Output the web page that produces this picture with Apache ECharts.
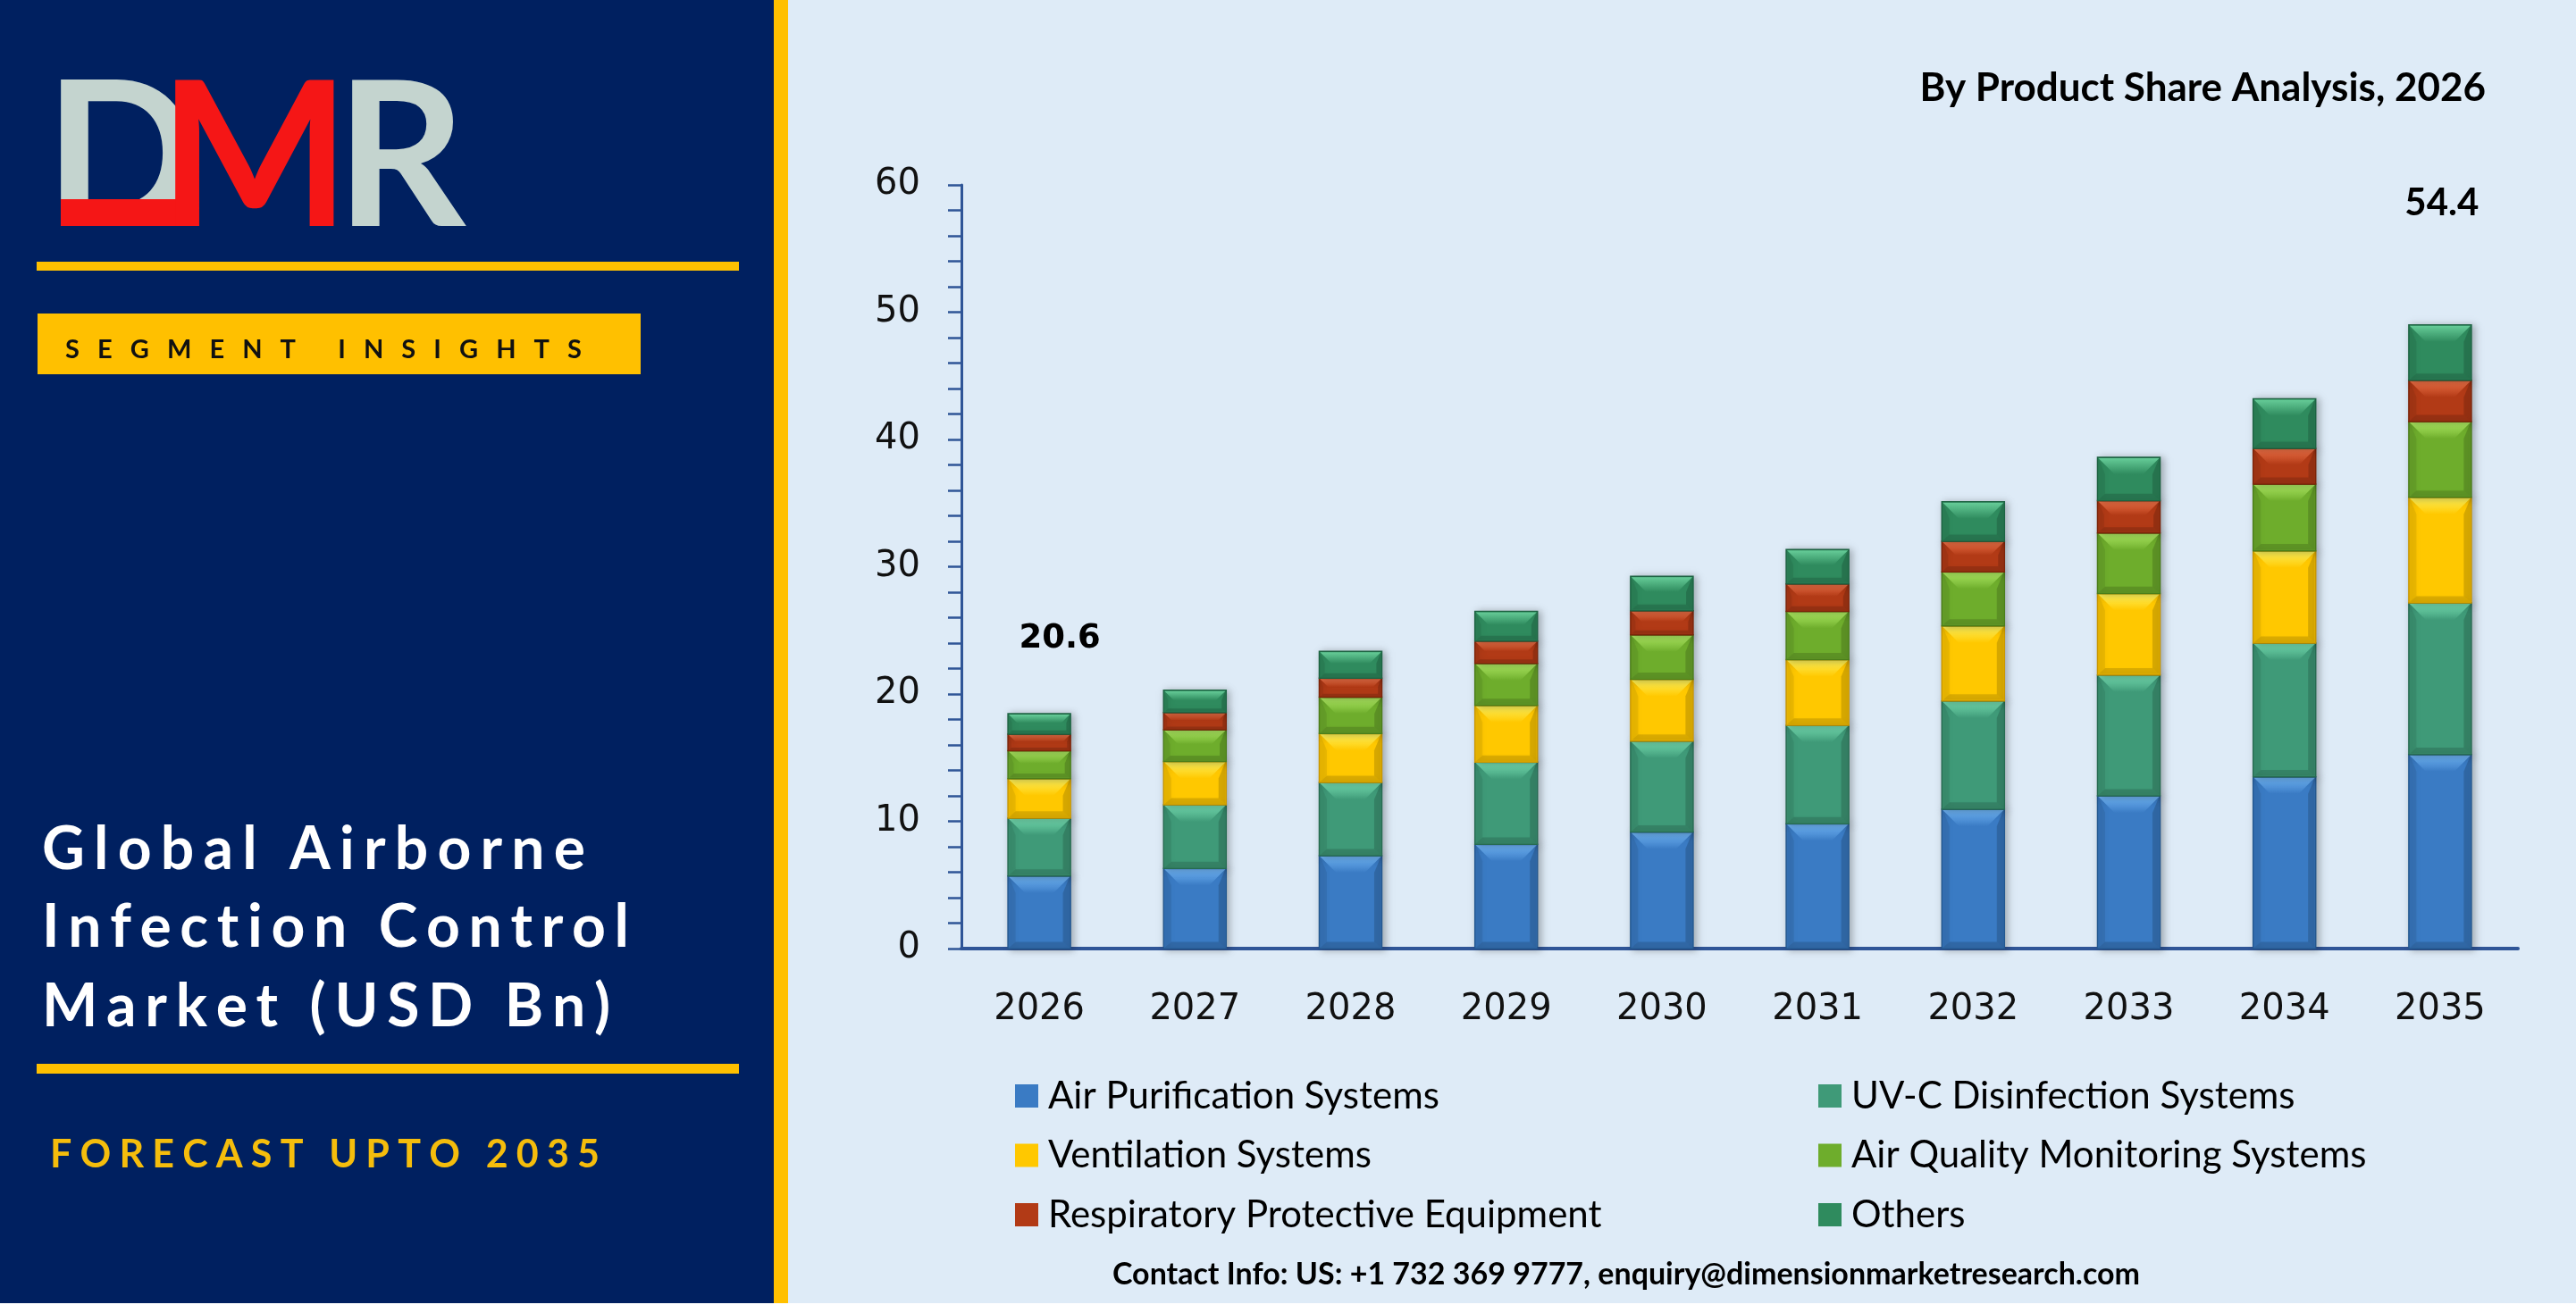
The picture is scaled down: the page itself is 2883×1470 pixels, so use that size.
<!DOCTYPE html>
<html lang="en">
<head>
<meta charset="UTF-8">
<title>Airborne Infection Control Market</title>
<script src="https://cdn.jsdelivr.net/npm/echarts@6/dist/echarts.min.js"></script>
<style>
    html, body {
        margin: 0;
        padding: 0;
        background: #fff;
    }
    #chart {
        width: 2883px;
        height: 1470px;
    }
</style>
</head>
<body>
<div id="chart"></div>
<script>
    // data (USD Bn)
    var years = ['2026', '2027', '2028', '2029', '2030', '2031', '2032', '2033', '2034', '2035'];
    var seriesNames = ['Air Purification Systems', 'UV-C Disinfection Systems', 'Ventilation Systems',
        'Air Quality Monitoring Systems', 'Respiratory Protective Equipment', 'Others'];
    var airPurification = [5.7, 6.3, 7.3, 8.2, 9.15, 9.8, 10.95, 12.0, 13.5, 15.25];
    var uvcDisinfection = [4.55, 5.0, 5.75, 6.45, 7.15, 7.75, 8.5, 9.5, 10.5, 11.9];
    var ventilation = [3.1, 3.4, 3.85, 4.45, 4.85, 5.15, 5.9, 6.4, 7.25, 8.3];
    var airQuality = [2.2, 2.5, 2.85, 3.3, 3.5, 3.8, 4.25, 4.75, 5.25, 5.95];
    var respiratory = [1.3, 1.35, 1.5, 1.75, 1.9, 2.15, 2.4, 2.55, 2.8, 3.25];
    var others = [1.6, 1.75, 2.1, 2.35, 2.7, 2.7, 3.1, 3.4, 3.9, 4.35];
    var calloutYears = ['2026', '2035'];
    var calloutValues = [20.6, 54.4];
    var yTicks = [0, 10, 20, 30, 40, 50, 60];

    var allValues = [airPurification, uvcDisinfection, ventilation, airQuality, respiratory, others];

    // bevel colours: face, highlight, edge
    var faces = ['#3a7bc4', '#3f9a78', '#ffc800', '#6ead2c', '#b23a16', '#2f8b5e'];
    var lights = ['#6fb4f5', '#74dcb0', '#fff25a', '#aeea62', '#ee7046', '#66cc98'];
    var edges = ['#24588f', '#276b51', '#c99700', '#4b7d1a', '#7c2409', '#1d6342'];

    var NAVY = '#002060';
    var GOLD = '#ffc000';
    var LOGO_GREY = '#c4d4cf';
    var LOGO_RED = '#f51616';

    var chart = echarts.init(document.getElementById('chart'));

    // stack the segments by hand so the custom series can draw a bevel
    var stacked = [];
    var base = years.map(function () { return 0; });
    allValues.forEach(function (vals) {
        stacked.push(vals.map(function (v, i) {
            var row = [i, base[i], base[i] + v];
            base[i] += v;
            return row;
        }));
    });

    function bevelBar(k) {
        return function (params, api) {
            var idx = api.value(0);
            var top = api.coord([idx, api.value(2)]);
            var bot = api.coord([idx, api.value(1)]);
            var w = 70;
            var x0 = top[0] - w / 2, x1 = x0 + w;
            var y0 = top[1], y1 = bot[1];
            var h = y1 - y0;
            var d = Math.min(19, h / 2.2);
            return {
                type: 'group',
                children: [
                    {
                        type: 'rect',
                        shape: { x: x0, y: y0, width: w, height: h },
                        style: {
                            fill: faces[k], stroke: edges[k], lineWidth: 1.5,
                            shadowBlur: 8, shadowColor: 'rgba(0,0,0,0.28)', shadowOffsetX: 3, shadowOffsetY: 1
                        }
                    },
                    {
                        type: 'polygon',
                        shape: { points: [[x0 + 1, y0 + 1], [x1 - 1, y0 + 1], [x1 - d, y0 + d], [x0 + d, y0 + d]] },
                        style: {
                            fill: new echarts.graphic.LinearGradient(0, 0, 0, 1, [
                                { offset: 0, color: lights[k] },
                                { offset: 1, color: faces[k] }
                            ])
                        }
                    },
                    {
                        type: 'polygon',
                        shape: { points: [[x0 + 1, y0 + 1], [x0 + d * 0.45, y0 + d], [x0 + d * 0.45, y1 - d * 0.4], [x0 + 1, y1 - 1]] },
                        style: { fill: 'rgba(0,0,0,0.07)' }
                    },
                    {
                        type: 'polygon',
                        shape: { points: [[x1 - 1, y0 + 1], [x1 - d * 0.45, y0 + d], [x1 - d * 0.45, y1 - d * 0.4], [x1 - 1, y1 - 1]] },
                        style: { fill: 'rgba(0,0,0,0.16)' }
                    },
                    {
                        type: 'polygon',
                        shape: { points: [[x0 + 1, y1 - 1], [x1 - 1, y1 - 1], [x1 - d * 0.45, y1 - d * 0.4], [x0 + d * 0.45, y1 - d * 0.4]] },
                        style: { fill: 'rgba(0,0,0,0.14)' }
                    }
                ]
            };
        };
    }

    // letter-spaced text, fitted to the width seen in the picture
    var mctx = document.createElement('canvas').getContext('2d');
    function spacedText(str, x, capMid, size, width, color) {
        var font = 'bold ' + size + 'px Lato';
        mctx.font = font;
        var chars = str.split('');
        var ws = chars.map(function (c) { return mctx.measureText(c).width; });
        var sum = ws.reduce(function (a, b) { return a + b; }, 0);
        var gap = (width - sum) / (chars.length - 1);
        var out = [];
        var cx = x;
        chars.forEach(function (c, k) {
            if (c !== ' ') {
                out.push({
                    type: 'text', x: cx, y: capMid + size * 0.05, z: 10,
                    style: {
                        text: c, fill: color, fontFamily: 'Lato', fontWeight: 'bold',
                        fontSize: size, align: 'left', verticalAlign: 'middle'
                    }
                });
            }
            cx += ws[k] + gap;
        });
        return out;
    }

    function logoLetter(ch, x, color, z) {
        return {
            type: 'text', z: z, x: x, y: 180,
            style: { text: ch, fill: color, fontFamily: 'Lato', fontWeight: 'bold', fontSize: 226, verticalAlign: 'middle' }
        };
    }

    var graphics = [
        { type: 'rect', z: 0, shape: { x: 0, y: 0, width: 866, height: 1459 }, style: { fill: NAVY } },
        { type: 'rect', z: 0, shape: { x: 866, y: 0, width: 16, height: 1459 }, style: { fill: GOLD } },
        { type: 'rect', z: 0, shape: { x: 0, y: 1459, width: 2883, height: 11 }, style: { fill: '#ffffff' } },
        // logo
        logoLetter('D', 50, LOGO_GREY, 5),
        { type: 'rect', z: 6, shape: { x: 68, y: 223, width: 140, height: 30 }, style: { fill: LOGO_RED } },
        logoLetter('M', 178, LOGO_RED, 7),
        logoLetter('R', 376, LOGO_GREY, 5),
        // yellow rules and box
        { type: 'rect', z: 1, shape: { x: 41, y: 293, width: 786, height: 10 }, style: { fill: GOLD } },
        { type: 'rect', z: 1, shape: { x: 42, y: 351, width: 675, height: 68 }, style: { fill: GOLD } },
        { type: 'rect', z: 1, shape: { x: 41, y: 1191, width: 786, height: 11 }, style: { fill: GOLD } },
        // contact line
        {
            type: 'text', z: 10, x: 1820, y: 1427,
            style: {
                text: 'Contact Info: US: +1 732 369 9777, enquiry@dimensionmarketresearch.com',
                fill: '#000', fontFamily: 'Lato', fontWeight: 'bold', fontSize: 34,
                align: 'center', verticalAlign: 'middle'
            }
        }
    ];
    graphics = graphics
        .concat(spacedText('SEGMENT INSIGHTS', 73, 390, 29, 578, '#111'))
        .concat(spacedText('Global Airborne', 47, 948, 66, 608, '#ffffff'))
        .concat(spacedText('Infection Control', 47, 1035, 66, 657, '#ffffff'))
        .concat(spacedText('Market (USD Bn)', 47, 1124, 66, 636, '#ffffff'))
        .concat(spacedText('FORECAST UPTO 2035', 56, 1291, 43, 615, '#f5bd0c'));

    var series = seriesNames.map(function (name, k) {
        var s = {
            name: name,
            type: 'custom',
            renderItem: bevelBar(k),
            itemStyle: { color: faces[k] },
            encode: { x: 0, y: [1, 2] },
            data: stacked[k],
            z: 2
        };
        if (k === seriesNames.length - 1) {
            s.markPoint = {
                symbol: 'circle',
                symbolSize: 1,
                itemStyle: { color: 'rgba(0,0,0,0)' },
                data: [
                    {
                        coord: [calloutYears[0], calloutValues[0]], value: calloutValues[0],
                        label: { offset: [23, -53], fontFamily: 'DejaVu Sans', fontSize: 37 }
                    },
                    {
                        coord: [calloutYears[1], calloutValues[1]], value: calloutValues[1],
                        label: { offset: [2, -59], fontFamily: 'Lato', fontSize: 42 }
                    }
                ],
                label: {
                    show: true, position: 'inside', color: '#000', fontWeight: 'bold',
                    formatter: function (p) { return p.value.toFixed(1); }
                }
            };
        }
        return s;
    });

    var legendText = { fontFamily: 'Lato', fontSize: 42, color: '#000', padding: [0, 0, 0, 6] };

    var option = {
        animation: false,
        backgroundColor: '#deebf7',
        title: {
            text: 'By Product Share Analysis, 2026',
            right: 96,
            top: 72,
            textStyle: { fontFamily: 'Lato', fontWeight: 'bold', fontSize: 44, color: '#000' }
        },
        legend: [
            {
                orient: 'vertical', left: 1136, top: 1206, itemGap: 24.5,
                itemWidth: 26, itemHeight: 26, icon: 'rect', padding: 0,
                data: [seriesNames[0], seriesNames[2], seriesNames[4]],
                textStyle: legendText
            },
            {
                orient: 'vertical', left: 2035, top: 1206, itemGap: 24.5,
                itemWidth: 26, itemHeight: 26, icon: 'rect', padding: 0,
                data: [seriesNames[1], seriesNames[3], seriesNames[5]],
                textStyle: legendText
            }
        ],
        grid: { left: 1076, top: 207, width: 1742, height: 855 },
        xAxis: {
            type: 'category',
            data: years,
            axisLine: { lineStyle: { color: '#2f5597', width: 4 } },
            axisTick: { show: false },
            axisLabel: { margin: 49, fontFamily: 'DejaVu Sans', fontSize: 40, color: '#111' }
        },
        yAxis: {
            type: 'value',
            min: yTicks[0],
            max: yTicks[yTicks.length - 1],
            interval: 10,
            axisLine: { show: true, lineStyle: { color: '#2f5597', width: 3 } },
            axisTick: { show: true, length: 15, lineStyle: { color: '#2f5597', width: 2.5 } },
            minorTick: { show: true, splitNumber: 5, length: 15, lineStyle: { color: '#2f5597', width: 2.5 } },
            splitLine: { show: false },
            axisLabel: { margin: 46, fontFamily: 'DejaVu Sans', fontSize: 40, color: '#111' }
        },
        graphic: { elements: graphics },
        series: series
    };

    chart.setOption(option);
</script>
</body>
</html>
